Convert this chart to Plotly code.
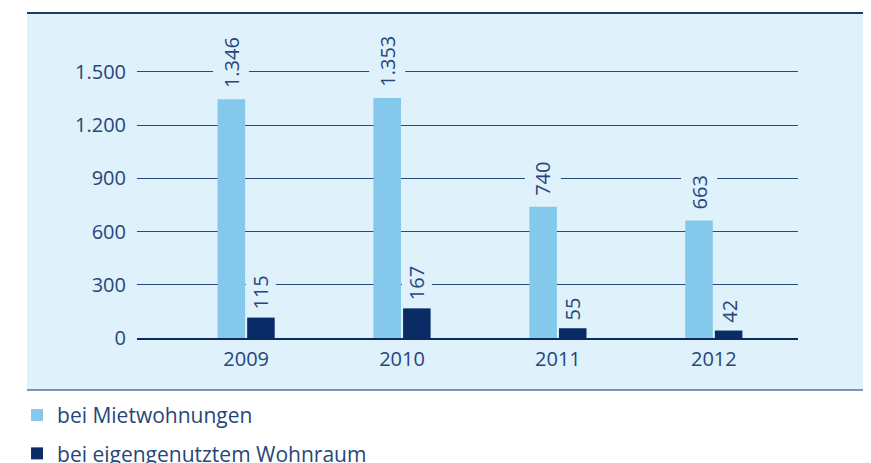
import plotly.graph_objects as go

# Daten
jahre = ["2009", "2010", "2011", "2012"]
mietwohnungen = [1346, 1353, 740, 663]
eigengenutzt = [115, 167, 55, 42]
y_ticks = [0, 300, 600, 900, 1200, 1500]

HELL = "#84c8ec"
DUNKEL = "#0b2b66"
PANEL = "#dff1fa"
TEXT = "#27467a"
FONT = "Open Sans"


def _de(v):
    return f"{v:,}".replace(",", ".")


fig = go.Figure([
    go.Bar(name="bei Mietwohnungen", x=jahre, y=mietwohnungen,
           marker=dict(color=HELL, line=dict(width=0)), legendgroup="a"),
    go.Bar(name="bei eigengenutztem Wohnraum", x=jahre, y=eigengenutzt,
           marker=dict(color=DUNKEL, line=dict(width=0)), legendgroup="b"),
])

bargap = 0.62
slot = (1 - bargap) / 4  # half of one bar slot, in category units
for i, j in enumerate(jahre):
    # label boxes cut the gridlines; keep the dark one narrow so it
    # does not bite into the light bar next to it
    for val, off, pad in ((mietwohnungen[i], -slot, 4), (eigengenutzt[i], slot, 1)):
        fig.add_annotation(x=i + off, y=val, text=_de(val), showarrow=False,
                           textangle=-90, xanchor="center", yanchor="bottom",
                           yshift=6, bgcolor=PANEL, borderpad=pad,
                           font=dict(family=FONT, size=20, color=TEXT))

# hellblaues Feld mit Rahmenlinien
fig.add_shape(type="rect", xref="paper", yref="paper",
              x0=-0.1664, x1=1.2, y0=-0.1745, y1=1.0906,
              fillcolor=PANEL, line=dict(width=0), layer="below")
fig.add_shape(type="line", xref="paper", yref="paper",
              x0=-0.1664, x1=1.2, y0=1.0906, y1=1.0906,
              line=dict(color="#1c3a6b", width=2), layer="below")
fig.add_shape(type="line", xref="paper", yref="paper",
              x0=-0.1664, x1=1.2, y0=-0.1745, y1=-0.1745,
              line=dict(color="#5273a3", width=1.5), layer="below")

fig.update_layout(
    width=871, height=463,
    margin=dict(l=129, r=81, t=32, b=133, autoexpand=False),
    barmode="group", bargap=bargap, bargroupgap=0.07,
    paper_bgcolor="white", plot_bgcolor="rgba(0,0,0,0)",
    separators=",.",
    font=dict(family=FONT, size=20, color=TEXT),
    xaxis=dict(type="category", range=[-0.7, 3.54], showgrid=False,
               showline=True, linecolor="#0d2a5e", linewidth=2,
               ticks="outside", ticklen=2, tickcolor="rgba(0,0,0,0)",
               tickfont=dict(size=20, color=TEXT)),
    yaxis=dict(range=[0, 1680], tickvals=y_ticks, tickformat=",d",
               showgrid=True, gridcolor="#2a4a7e", gridwidth=1,
               zeroline=False, showline=False,
               ticks="outside", ticklen=6, tickcolor="rgba(0,0,0,0)",
               tickfont=dict(size=20, color=TEXT)),
    legend=dict(x=-0.1815, y=-0.191, xanchor="left", yanchor="top",
                orientation="v", tracegroupgap=8, traceorder="grouped",
                bgcolor="rgba(0,0,0,0)",
                font=dict(family=FONT, size=21, color=TEXT)),
    showlegend=True,
)

fig.write_html("out.html")
